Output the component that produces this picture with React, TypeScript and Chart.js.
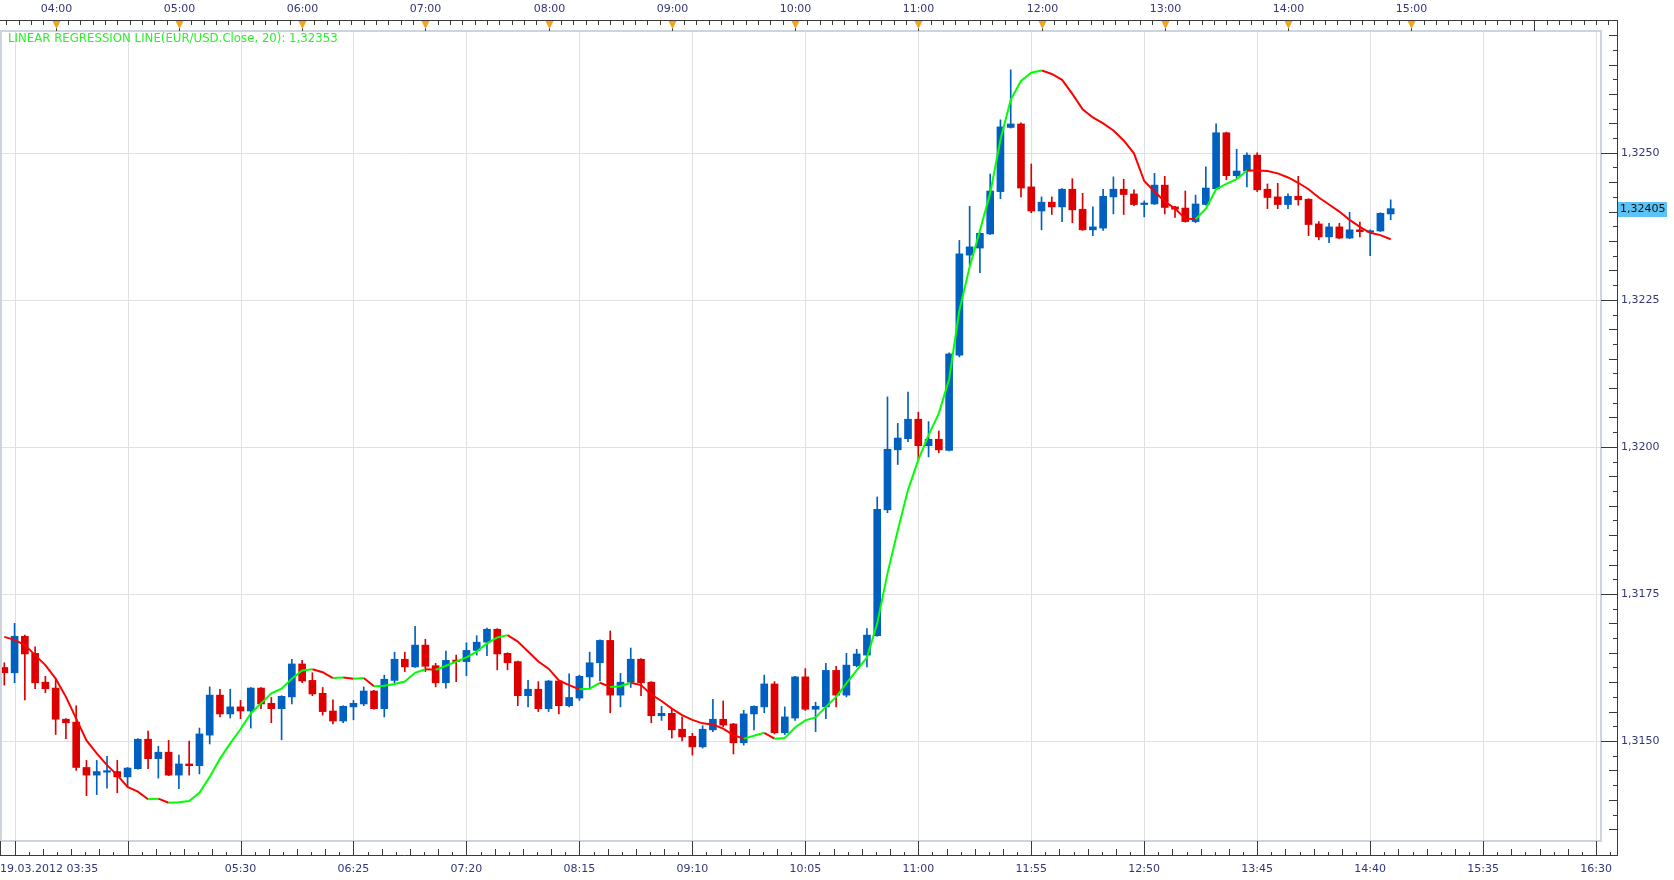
import React, { useEffect, useRef } from 'react';
import { Chart, registerables } from 'chart.js';

Chart.register(...registerables);

// ---- DATA (EUR/USD, 5-minute bars, 19.03.2012 from 03:35) ----
const opens = [
  1.31625, 1.31616, 1.31678, 1.31649, 1.31600, 1.31590, 1.31537, 1.31532, 1.31455, 1.31442,
  1.31447, 1.31448, 1.31439, 1.31453, 1.31503, 1.31470, 1.31481, 1.31442, 1.31461, 1.31458,
  1.31510, 1.31578, 1.31546, 1.31558, 1.31551, 1.31590, 1.31564, 1.31555, 1.31575, 1.31631,
  1.31603, 1.31581, 1.31551, 1.31534, 1.31558, 1.31563, 1.31585, 1.31555, 1.31603, 1.31639,
  1.31626, 1.31663, 1.31628, 1.31599, 1.31637, 1.31635, 1.31654, 1.31668, 1.31690, 1.31649,
  1.31635, 1.31577, 1.31588, 1.31555, 1.31602, 1.31560, 1.31573, 1.31609, 1.31633, 1.31671,
  1.31578, 1.31600, 1.31639, 1.31600, 1.31543, 1.31547, 1.31520, 1.31508, 1.31490, 1.31519,
  1.31537, 1.31529, 1.31497, 1.31546, 1.31558, 1.31597, 1.31514, 1.31539, 1.31609, 1.31554,
  1.31558, 1.31620, 1.31578, 1.31628, 1.31646, 1.31679, 1.31893, 1.31995, 1.32014, 1.32047,
  1.32002, 1.32013, 1.31994, 1.32156, 1.32326, 1.32338, 1.32362, 1.32434, 1.32543, 1.32549,
  1.32442, 1.32401, 1.32416, 1.32408, 1.32438, 1.32404, 1.32369, 1.32372, 1.32425, 1.32438,
  1.32430, 1.32412, 1.32413, 1.32445, 1.32408, 1.32406, 1.32383, 1.32412, 1.32439, 1.32534,
  1.32461, 1.32469, 1.32496, 1.32438, 1.32425, 1.32412, 1.32426, 1.32421, 1.32379, 1.32357,
  1.32374, 1.32355, 1.32369, 1.32365, 1.32367, 1.32396,
];
const highs = [
  1.31633, 1.31700, 1.31680, 1.31660, 1.31610, 1.31605, 1.31538, 1.31560, 1.31467, 1.31467,
  1.31474, 1.31467, 1.31455, 1.31504, 1.31517, 1.31491, 1.31501, 1.31476, 1.31500, 1.31522,
  1.31592, 1.31588, 1.31588, 1.31569, 1.31591, 1.31591, 1.31574, 1.31577, 1.31639, 1.31637,
  1.31616, 1.31591, 1.31570, 1.31560, 1.31569, 1.31592, 1.31586, 1.31612, 1.31651, 1.31651,
  1.31695, 1.31673, 1.31632, 1.31653, 1.31646, 1.31667, 1.31679, 1.31692, 1.31691, 1.31650,
  1.31636, 1.31603, 1.31601, 1.31603, 1.31603, 1.31614, 1.31612, 1.31651, 1.31672, 1.31687,
  1.31615, 1.31658, 1.31640, 1.31601, 1.31559, 1.31555, 1.31541, 1.31513, 1.31526, 1.31571,
  1.31568, 1.31530, 1.31552, 1.31560, 1.31612, 1.31601, 1.31558, 1.31610, 1.31623, 1.31566,
  1.31632, 1.31627, 1.31649, 1.31656, 1.31691, 1.31915, 1.32085, 1.32040, 1.32093, 1.32059,
  1.32043, 1.32027, 1.32160, 1.32351, 1.32409, 1.32364, 1.32464, 1.32556, 1.32641, 1.32551,
  1.32481, 1.32425, 1.32425, 1.32439, 1.32456, 1.32431, 1.32408, 1.32438, 1.32459, 1.32455,
  1.32437, 1.32418, 1.32465, 1.32460, 1.32409, 1.32435, 1.32428, 1.32476, 1.32549, 1.32535,
  1.32506, 1.32500, 1.32500, 1.32447, 1.32448, 1.32430, 1.32460, 1.32422, 1.32383, 1.32380,
  1.32380, 1.32399, 1.32382, 1.32369, 1.32398, 1.32420,
];
const lows = [
  1.31595, 1.31599, 1.31570, 1.31589, 1.31582, 1.31511, 1.31504, 1.31450, 1.31407, 1.31409,
  1.31420, 1.31412, 1.31422, 1.31452, 1.31453, 1.31437, 1.31441, 1.31419, 1.31442, 1.31444,
  1.31495, 1.31541, 1.31539, 1.31538, 1.31522, 1.31555, 1.31531, 1.31502, 1.31563, 1.31599,
  1.31577, 1.31544, 1.31529, 1.31531, 1.31536, 1.31560, 1.31554, 1.31541, 1.31598, 1.31618,
  1.31625, 1.31618, 1.31592, 1.31590, 1.31601, 1.31611, 1.31646, 1.31645, 1.31621, 1.31621,
  1.31560, 1.31558, 1.31550, 1.31550, 1.31546, 1.31558, 1.31569, 1.31590, 1.31602, 1.31548,
  1.31558, 1.31591, 1.31577, 1.31531, 1.31535, 1.31505, 1.31500, 1.31476, 1.31488, 1.31516,
  1.31524, 1.31478, 1.31493, 1.31519, 1.31548, 1.31512, 1.31511, 1.31535, 1.31552, 1.31516,
  1.31538, 1.31558, 1.31575, 1.31626, 1.31626, 1.31678, 1.31888, 1.31970, 1.32009, 1.31978,
  1.31983, 1.31990, 1.31993, 1.32153, 1.32309, 1.32296, 1.32361, 1.32422, 1.32542, 1.32425,
  1.32398, 1.32369, 1.32395, 1.32383, 1.32381, 1.32368, 1.32359, 1.32368, 1.32396, 1.32395,
  1.32410, 1.32391, 1.32412, 1.32396, 1.32390, 1.32382, 1.32381, 1.32411, 1.32438, 1.32454,
  1.32457, 1.32442, 1.32434, 1.32405, 1.32405, 1.32405, 1.32411, 1.32359, 1.32352, 1.32347,
  1.32354, 1.32354, 1.32357, 1.32325, 1.32366, 1.32386,
];
const closes = [
  1.31616, 1.31678, 1.31648, 1.31599, 1.31589, 1.31537, 1.31531, 1.31455, 1.31442, 1.31448,
  1.31449, 1.31439, 1.31454, 1.31503, 1.31470, 1.31481, 1.31442, 1.31461, 1.31458, 1.31512,
  1.31578, 1.31546, 1.31558, 1.31551, 1.31590, 1.31563, 1.31555, 1.31576, 1.31631, 1.31602,
  1.31580, 1.31550, 1.31534, 1.31559, 1.31564, 1.31585, 1.31555, 1.31605, 1.31639, 1.31626,
  1.31663, 1.31627, 1.31599, 1.31637, 1.31635, 1.31654, 1.31668, 1.31690, 1.31648, 1.31633,
  1.31577, 1.31588, 1.31555, 1.31602, 1.31560, 1.31574, 1.31610, 1.31633, 1.31671, 1.31578,
  1.31600, 1.31639, 1.31599, 1.31543, 1.31547, 1.31519, 1.31507, 1.31490, 1.31520, 1.31537,
  1.31527, 1.31497, 1.31546, 1.31559, 1.31597, 1.31514, 1.31541, 1.31609, 1.31554, 1.31559,
  1.31620, 1.31578, 1.31629, 1.31648, 1.31680, 1.31894, 1.31996, 1.32015, 1.32047, 1.32002,
  1.32013, 1.31995, 1.32158, 1.32328, 1.32340, 1.32363, 1.32435, 1.32544, 1.32549, 1.32440,
  1.32401, 1.32416, 1.32408, 1.32438, 1.32403, 1.32369, 1.32374, 1.32426, 1.32438, 1.32429,
  1.32412, 1.32413, 1.32445, 1.32407, 1.32404, 1.32383, 1.32413, 1.32440, 1.32534, 1.32461,
  1.32469, 1.32496, 1.32437, 1.32424, 1.32412, 1.32426, 1.32420, 1.32378, 1.32357, 1.32374,
  1.32355, 1.32369, 1.32366, 1.32367, 1.32397, 1.32405,
];
// Linear regression line (20) as drawn on the chart
const regression = [
  1.31677, 1.31672, 1.31663, 1.31646, 1.31629, 1.31606, 1.31575, 1.31538, 1.31501, 1.31479,
  1.31459, 1.31442, 1.31422, 1.31414, 1.31401, 1.31402, 1.31395, 1.31396, 1.31398, 1.31412,
  1.31439, 1.31470, 1.31496, 1.31520, 1.31547, 1.31564, 1.31581, 1.31589, 1.31606, 1.31620,
  1.31622, 1.31617, 1.31607, 1.31608, 1.31606, 1.31607, 1.31593, 1.31594, 1.31597, 1.31601,
  1.31616, 1.31622, 1.31621, 1.31628, 1.31635, 1.31642, 1.31652, 1.31666, 1.31676, 1.31680,
  1.31669, 1.31652, 1.31635, 1.31623, 1.31603, 1.31595, 1.31588, 1.31589, 1.31599, 1.31592,
  1.31593, 1.31599, 1.31595, 1.31579, 1.31568, 1.31555, 1.31544, 1.31536, 1.31530, 1.31528,
  1.31521, 1.31510, 1.31504, 1.31509, 1.31514, 1.31504, 1.31505, 1.31523, 1.31535, 1.31540,
  1.31558, 1.31575, 1.31598, 1.31620, 1.31642, 1.31700, 1.31785, 1.31858, 1.31927, 1.31978,
  1.32020, 1.32057, 1.32115, 1.32232, 1.32306, 1.32368, 1.32431, 1.32522, 1.32590, 1.32622,
  1.32636, 1.32640, 1.32634, 1.32624, 1.32600, 1.32574, 1.32560, 1.32550, 1.32538, 1.32521,
  1.32499, 1.32452, 1.32434, 1.32417, 1.32405, 1.32388, 1.32387, 1.32405, 1.32438, 1.32447,
  1.32455, 1.32470, 1.32470, 1.32469, 1.32465, 1.32458, 1.32449, 1.32438, 1.32424, 1.32412,
  1.32400, 1.32386, 1.32374, 1.32364, 1.32360, 1.32353,
];

const hourLabels = ['04:00', '05:00', '06:00', '07:00', '08:00', '09:00', '10:00', '11:00', '12:00', '13:00', '14:00', '15:00'];
const bottomDateLabel = '19.03.2012 03:35';
const bottomLabels = ['05:30', '06:25', '07:20', '08:15', '09:10', '10:05', '11:00', '11:55', '12:50', '13:45', '14:40', '15:35', '16:30'];
const priceTicks = [1.315, 1.3175, 1.32, 1.3225, 1.325];
const indicatorName = 'LINEAR REGRESSION LINE(EUR/USD.Close, 20)';

// ---- LAYOUT / STYLE ----
const W = 1674;
const H = 880;
const BARS_PER_HOUR = 12;
const FIRST_HOUR_INDEX = 5; // 04:00
const GRID_STEP = 11; // bars between bottom labels
const FIRST_GRID_INDEX = 1; // 03:40
const FIRST_BOTTOM_LABEL_INDEX = 23; // 05:30
const X_MIN = -0.42;
const X_MAX = 155.48;
const Y_MIN = 1.3133;
const Y_MAX = 1.32707;
const AXIS_RIGHT = 1617;
const TOP_AXIS_Y = 20;
const BOTTOM_AXIS_Y = 855;
const UP = '#0060c0';
const DOWN = '#dd0000';
const GRID = '#e0e0e0';
const FRAME = '#cdd4de';
const AXIS = '#3a3a3a';
const LABEL = '#35357a';
const FONT = '11px "DejaVu Sans", Verdana, sans-serif';

const fmt = (v: number, d: number) => v.toFixed(d).replace('.', ',');

const decoPlugin = {
  id: 'deco',
  beforeDatasetsDraw(chart: any) {
    const { ctx, chartArea: a, scales } = chart;
    const x = scales.x;
    const y = scales.y;
    ctx.save();
    ctx.strokeStyle = GRID;
    ctx.lineWidth = 1;
    for (let i = FIRST_GRID_INDEX; i <= X_MAX; i += GRID_STEP) {
      const px = Math.round(x.getPixelForValue(i)) + 0.5;
      ctx.beginPath();
      ctx.moveTo(px, a.top);
      ctx.lineTo(px, a.bottom);
      ctx.stroke();
    }
    for (const v of priceTicks) {
      const py = Math.round(y.getPixelForValue(v)) + 0.5;
      ctx.beginPath();
      ctx.moveTo(a.left, py);
      ctx.lineTo(a.right, py);
      ctx.stroke();
    }
    ctx.restore();
  },
  afterDraw(chart: any) {
    const { ctx, chartArea: a, scales } = chart;
    const x = scales.x;
    const y = scales.y;
    ctx.save();

    // frame of plot area
    ctx.strokeStyle = FRAME;
    ctx.lineWidth = 2;
    ctx.strokeRect(a.left + 1, a.top, a.right - a.left - 1, a.bottom - a.top);

    ctx.strokeStyle = AXIS;
    ctx.lineWidth = 1;
    // axis lines
    ctx.beginPath();
    ctx.moveTo(0, TOP_AXIS_Y + 0.5);
    ctx.lineTo(AXIS_RIGHT + 1, TOP_AXIS_Y + 0.5);
    ctx.moveTo(0, BOTTOM_AXIS_Y + 0.5);
    ctx.lineTo(AXIS_RIGHT + 1, BOTTOM_AXIS_Y + 0.5);
    ctx.moveTo(AXIS_RIGHT + 0.5, TOP_AXIS_Y);
    ctx.lineTo(AXIS_RIGHT + 0.5, BOTTOM_AXIS_Y + 1);
    ctx.moveTo(0.5, BOTTOM_AXIS_Y - 14);
    ctx.lineTo(0.5, BOTTOM_AXIS_Y + 1);
    ctx.stroke();

    // top axis minor ticks (every 6 minutes)
    ctx.beginPath();
    for (let t = FIRST_HOUR_INDEX - 6; t <= X_MAX + 6; t += BARS_PER_HOUR / 10) {
      const px = Math.round(x.getPixelForValue(t)) + 0.5;
      if (px < 0 || px > AXIS_RIGHT - 2) continue;
      ctx.moveTo(px, TOP_AXIS_Y);
      ctx.lineTo(px, TOP_AXIS_Y + 5);
    }
    ctx.stroke();

    // hour ticks, triangles and labels
    ctx.font = FONT;
    ctx.textAlign = 'center';
    ctx.textBaseline = 'middle';
    for (let k = 0; ; k++) {
      const idx = FIRST_HOUR_INDEX + k * BARS_PER_HOUR;
      const px = Math.round(x.getPixelForValue(idx)) + 0.5;
      if (px > AXIS_RIGHT - 5) break;
      ctx.strokeStyle = AXIS;
      ctx.beginPath();
      ctx.moveTo(px, TOP_AXIS_Y);
      ctx.lineTo(px, a.top);
      ctx.stroke();
      if (k < hourLabels.length) {
        ctx.fillStyle = '#f5a31a';
        ctx.beginPath();
        ctx.moveTo(px - 4, TOP_AXIS_Y + 1);
        ctx.lineTo(px + 4, TOP_AXIS_Y + 1);
        ctx.lineTo(px, TOP_AXIS_Y + 9);
        ctx.closePath();
        ctx.fill();
        ctx.fillStyle = LABEL;
        ctx.fillText(hourLabels[k], px, 9);
      }
    }

    // bottom axis ticks
    ctx.strokeStyle = AXIS;
    ctx.beginPath();
    const sub = GRID_STEP / 8;
    for (let j = -8; ; j++) {
      const t = FIRST_GRID_INDEX + j * sub;
      const px = Math.round(x.getPixelForValue(t)) + 0.5;
      if (px > AXIS_RIGHT - 2) break;
      if (px < 0) continue;
      const m = ((j % 8) + 8) % 8;
      const len = m === 0 ? BOTTOM_AXIS_Y - a.bottom : m % 2 === 0 ? 6 : 3;
      ctx.moveTo(px, BOTTOM_AXIS_Y);
      ctx.lineTo(px, BOTTOM_AXIS_Y - len);
    }
    ctx.stroke();

    ctx.fillStyle = LABEL;
    ctx.textAlign = 'left';
    ctx.fillText(bottomDateLabel, 0, 869);
    ctx.textAlign = 'center';
    bottomLabels.forEach((lab, k) => {
      const px = x.getPixelForValue(FIRST_BOTTOM_LABEL_INDEX + k * GRID_STEP);
      ctx.fillText(lab, px, 869);
    });

    // right axis ticks
    ctx.beginPath();
    const step = 0.00025;
    for (let n = Math.ceil(Y_MIN / step); n * step <= Y_MAX; n++) {
      const v = n * step;
      const py = Math.round(y.getPixelForValue(v)) + 0.5;
      if (py < TOP_AXIS_Y + 3) continue;
      const major = n % 10 === 0;
      const len = major ? AXIS_RIGHT - a.right : n % 2 === 0 ? 8 : 4;
      ctx.moveTo(AXIS_RIGHT, py);
      ctx.lineTo(AXIS_RIGHT - len, py);
    }
    ctx.stroke();

    ctx.textAlign = 'left';
    ctx.fillStyle = LABEL;
    for (const v of priceTicks) {
      ctx.fillText(fmt(v, 4), AXIS_RIGHT + 4, y.getPixelForValue(v));
    }

    // last price tag
    const last = closes[closes.length - 1];
    const ly = Math.round(y.getPixelForValue(last));
    ctx.fillStyle = '#5bc3f5';
    ctx.fillRect(AXIS_RIGHT + 1, ly - 7, 49, 15);
    ctx.fillStyle = '#111111';
    ctx.fillText(fmt(last, 5), AXIS_RIGHT + 3, ly + 0.5);

    // indicator legend
    ctx.font = '11.75px "DejaVu Sans", Verdana, sans-serif';
    ctx.fillStyle = '#2cf02c';
    ctx.textAlign = 'left';
    ctx.fillText(indicatorName + ': ' + fmt(regression[regression.length - 1], 5), 8, 39);

    ctx.restore();
  },
};

export default function App() {
  const ref = useRef<HTMLCanvasElement | null>(null);

  useEffect(() => {
    document.body.style.margin = '0';
    const canvas = ref.current;
    if (!canvas) return;
    const colors = closes.map((c, i) => (c > opens[i] ? UP : DOWN));
    const chart = new Chart(canvas, {
      type: 'bar',
      data: {
        datasets: [
          {
            type: 'line',
            data: regression.map((v, i) => ({ x: i, y: v })),
            borderColor: '#ff0000',
            borderWidth: 2,
            pointRadius: 0,
            tension: 0,
            fill: false,
            order: 0,
            segment: {
              borderColor: (c: any) => (c.p1.parsed.y > c.p0.parsed.y ? '#00ff00' : '#ff0000'),
            },
          } as any,
          {
            type: 'bar',
            data: closes.map((c, i) => ({ x: i, y: [Math.min(opens[i], c), Math.max(opens[i], c)] })),
            backgroundColor: colors,
            borderWidth: 0,
            barThickness: 7,
            minBarLength: 1.5,
            grouped: false,
            order: 1,
          } as any,
          {
            type: 'bar',
            data: closes.map((_, i) => ({ x: i, y: [lows[i], highs[i]] })),
            backgroundColor: colors,
            borderWidth: 0,
            barThickness: 1,
            grouped: false,
            order: 2,
          } as any,
        ],
      },
      options: {
        responsive: false,
        animation: false,
        devicePixelRatio: 1,
        layout: { padding: { left: 0, top: 31, right: W - 1601, bottom: H - 841 } },
        plugins: { legend: { display: false }, tooltip: { enabled: false } },
        scales: {
          x: { type: 'linear', min: X_MIN, max: X_MAX, offset: false, display: false },
          y: { type: 'linear', min: Y_MIN, max: Y_MAX, display: false },
        },
      } as any,
      plugins: [decoPlugin],
    });
    return () => chart.destroy();
  }, []);

  return (
    <div style={{ position: 'fixed', left: 0, top: 0, width: W, height: H, background: '#ffffff' }}>
      <canvas ref={ref} width={W} height={H} style={{ width: W, height: H, display: 'block' }} />
    </div>
  );
}
